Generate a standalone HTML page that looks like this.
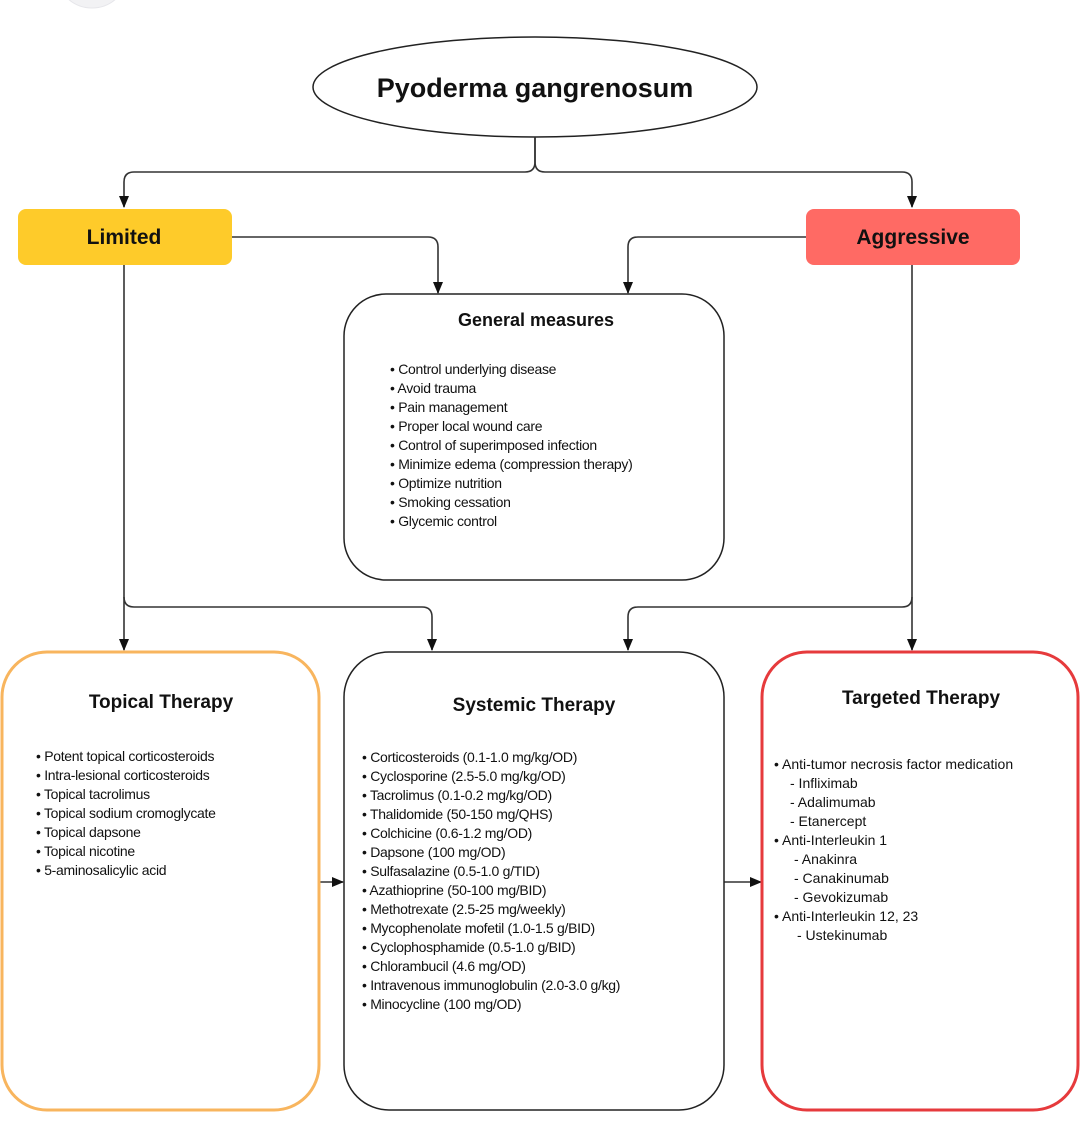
<!DOCTYPE html>
<html><head><meta charset="utf-8"><style>
html,body{margin:0;padding:0;background:#fff;}
svg{display:block;}
text{font-family:"Liberation Sans",sans-serif;fill:#111;}
.l{font-size:14px;letter-spacing:-0.3px;}
.t{font-size:19px;font-weight:bold;}
</style></head><body>
<svg width="1080" height="1128" viewBox="0 0 1080 1128" xmlns="http://www.w3.org/2000/svg">
<defs>
<marker id="a" markerWidth="12" markerHeight="10" refX="11" refY="5" orient="auto" markerUnits="userSpaceOnUse" viewBox="0 0 12 10"><path d="M0,0 L12,5 L0,10 Z" fill="#111"/></marker>
</defs>
<circle cx="92" cy="-28" r="36" fill="#f2f2f4" stroke="#e6e6ea"/>
<ellipse cx="535" cy="87" rx="222" ry="50" fill="#fff" stroke="#222" stroke-width="1.5"/>
<text x="535" y="97" text-anchor="middle" style="font-size:27px;font-weight:bold">Pyoderma gangrenosum</text>
<g fill="none" stroke="#333" stroke-width="1.6">
<path d="M535,137 V162 Q535,172 525,172 H134 Q124,172 124,182 V207" marker-end="url(#a)"/>
<path d="M535,137 V162 Q535,172 545,172 H902 Q912,172 912,182 V207" marker-end="url(#a)"/>
<path d="M232,237 H428 Q438,237 438,247 V293" marker-end="url(#a)"/>
<path d="M806,237 H638 Q628,237 628,247 V293" marker-end="url(#a)"/>
<path d="M124,265 V650" marker-end="url(#a)"/>
<path d="M124,597 Q124,607 134,607 H422 Q432,607 432,617 V650" marker-end="url(#a)"/>
<path d="M912,265 V650" marker-end="url(#a)"/>
<path d="M912,597 Q912,607 902,607 H638 Q628,607 628,617 V650" marker-end="url(#a)"/>
<path d="M319,882 H343" marker-end="url(#a)"/>
<path d="M724,882 H761" marker-end="url(#a)"/>
</g>
<rect x="18" y="209" width="214" height="56" rx="8" fill="#FECB2A"/>
<text x="124" y="244" text-anchor="middle" class="t" style="font-size:21px">Limited</text>
<rect x="806" y="209" width="214" height="56" rx="8" fill="#FF6A64"/>
<text x="913" y="244" text-anchor="middle" class="t" style="font-size:21px">Aggressive</text>

<rect x="344" y="294" width="380" height="286" rx="42" fill="#fff" stroke="#222" stroke-width="1.5"/>
<text x="536" y="326" text-anchor="middle" class="t" style="font-size:18px">General measures</text>
<g class="l">
<text x="390" y="374">• Control underlying disease</text>
<text x="390" y="393">• Avoid trauma</text>
<text x="390" y="412">• Pain management</text>
<text x="390" y="431">• Proper local wound care</text>
<text x="390" y="450">• Control of superimposed infection</text>
<text x="390" y="469">• Minimize edema (compression therapy)</text>
<text x="390" y="488">• Optimize nutrition</text>
<text x="390" y="507">• Smoking cessation</text>
<text x="390" y="526">• Glycemic control</text>
</g>

<rect x="2" y="652" width="317" height="458" rx="45" fill="#fff" stroke="#F8B55E" stroke-width="3"/>
<text x="161" y="708" text-anchor="middle" class="t">Topical Therapy</text>
<g class="l">
<text x="36" y="761">• Potent topical corticosteroids</text>
<text x="36" y="780">• Intra-lesional corticosteroids</text>
<text x="36" y="799">• Topical tacrolimus</text>
<text x="36" y="818">• Topical sodium cromoglycate</text>
<text x="36" y="837">• Topical dapsone</text>
<text x="36" y="856">• Topical nicotine</text>
<text x="36" y="875">• 5-aminosalicylic acid</text>
</g>

<rect x="344" y="652" width="380" height="458" rx="45" fill="#fff" stroke="#222" stroke-width="1.5"/>
<text x="534" y="711" text-anchor="middle" class="t">Systemic Therapy</text>
<g class="l">
<text x="362" y="762">• Corticosteroids (0.1-1.0 mg/kg/OD)</text>
<text x="362" y="781">• Cyclosporine (2.5-5.0 mg/kg/OD)</text>
<text x="362" y="800">• Tacrolimus (0.1-0.2 mg/kg/OD)</text>
<text x="362" y="819">• Thalidomide (50-150 mg/QHS)</text>
<text x="362" y="838">• Colchicine (0.6-1.2 mg/OD)</text>
<text x="362" y="857">• Dapsone (100 mg/OD)</text>
<text x="362" y="876">• Sulfasalazine (0.5-1.0 g/TID)</text>
<text x="362" y="895">• Azathioprine (50-100 mg/BID)</text>
<text x="362" y="914">• Methotrexate (2.5-25 mg/weekly)</text>
<text x="362" y="933">• Mycophenolate mofetil (1.0-1.5 g/BID)</text>
<text x="362" y="952">• Cyclophosphamide (0.5-1.0 g/BID)</text>
<text x="362" y="971">• Chlorambucil (4.6 mg/OD)</text>
<text x="362" y="990">• Intravenous immunoglobulin (2.0-3.0 g/kg)</text>
<text x="362" y="1009">• Minocycline (100 mg/OD)</text>
</g>

<rect x="762" y="652" width="316" height="458" rx="45" fill="#fff" stroke="#E63A3C" stroke-width="3"/>
<text x="921" y="704" text-anchor="middle" class="t">Targeted Therapy</text>
<g class="l" style="letter-spacing:0">
<text x="774" y="769">• Anti-tumor necrosis factor medication</text>
<text x="790" y="788">- Infliximab</text>
<text x="790" y="807">- Adalimumab</text>
<text x="790" y="826">- Etanercept</text>
<text x="774" y="845">• Anti-Interleukin 1</text>
<text x="794" y="864">- Anakinra</text>
<text x="794" y="883">- Canakinumab</text>
<text x="794" y="902">- Gevokizumab</text>
<text x="774" y="921">• Anti-Interleukin 12, 23</text>
<text x="797" y="940">- Ustekinumab</text>
</g>
</svg>
</body></html>
